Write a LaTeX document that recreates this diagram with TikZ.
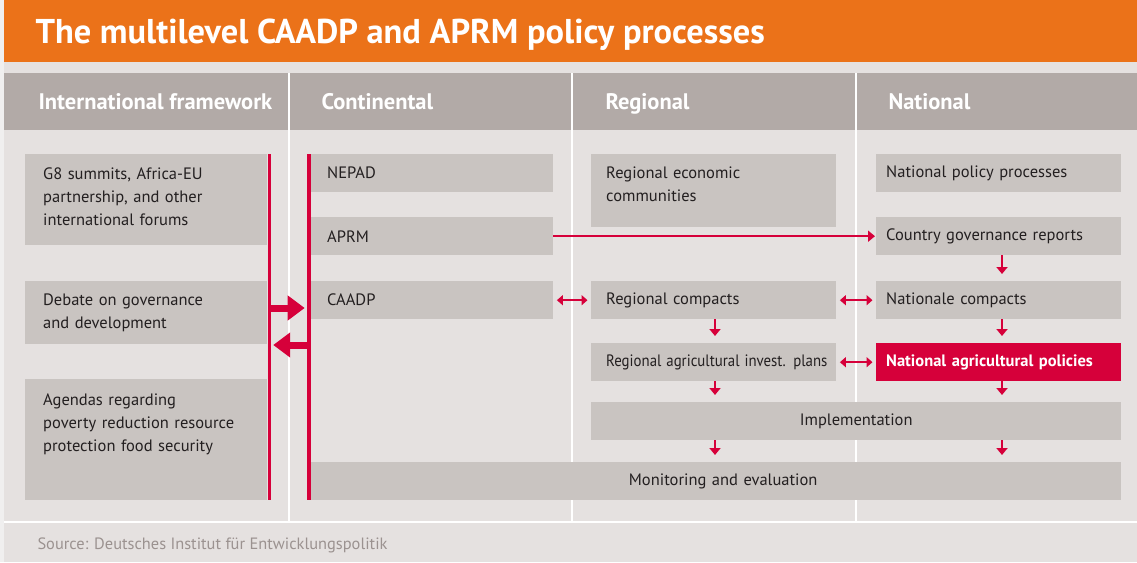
\documentclass[tikz,border=0pt]{standalone}
\usepackage{fontspec}
\setmainfont{PT Sans}
\usetikzlibrary{arrows.meta,positioning}

\definecolor{lancetorange}{HTML}{EB7219}
\definecolor{headgray}{HTML}{B2AAA7}
\definecolor{panelgray}{HTML}{E5E1E0}
\definecolor{edgegray}{HTML}{F0EFEF}
\definecolor{boxgray}{HTML}{C9C4C1}
\definecolor{flowred}{HTML}{D6003A}
\definecolor{inkgray}{HTML}{231F20}
\definecolor{srcgray}{HTML}{9B9290}

\tikzset{
  box/.style={fill=boxgray, anchor=north west, inner ysep=0pt, minimum height=38pt,
    text width=#1, align=left, text=inkgray, font=\fontsize{16.5}{23}\selectfont},
  head/.style={anchor=base west, text=white, font=\bfseries\fontsize{22.5}{26}\selectfont},
  flow/.style={flowred, line width=2.5pt, -{Triangle[length=7pt,width=11pt]}, shorten >=7pt},
  twoway/.style={flowred, line width=2.5pt,
    {Triangle[length=6pt,width=10pt]}-{Triangle[length=6pt,width=10pt]},
    shorten <=3.5pt, shorten >=3.5pt},
  bigarrow/.style={flowred, line width=7pt, -{Triangle[length=17pt,width=24pt]}, shorten >=4pt}
}

\begin{document}
\begin{tikzpicture}[x=1pt,y=-1pt]
\useasboundingbox (0,0) rectangle (1137,562);

% backdrop, title band and column heads
\fill[edgegray] (0,0) rectangle (1137,562);
\fill[panelgray] (4,0) rectangle (1137,562);
\fill[lancetorange] (4,0) rectangle (1137,62);
\fill[headgray] (4,73) rectangle (1137,130);
\foreach \x in {288.5,572,856}
  \draw[white, line width=2pt] (\x,73) -- (\x,521);
\draw[white, line width=2pt] (4,521.5) -- (1137,521.5);

\node[anchor=base west, text=white, font=\bfseries\fontsize{34.4}{40}\selectfont] (title) at (32,43)
  {The multilevel CAADP and APRM policy processes};
\node[head] (hint) at (35,109) {International framework};
\node[head] (hcon) at (318,109) {Continental};
\node[head] (hreg) at (602,109) {Regional};
\node[head] (hnat) at (885,109) {National};

% international framework
\node[box=206pt, inner xsep=18pt, minimum height=91pt] (g8) at (25,154)
  {\parbox[c][64pt][t]{206pt}{G8 summits, Africa-EU\\partnership, and other\\international forums}};
\node[box=206pt, inner xsep=18pt, minimum height=63pt] (debate) at (25,281)
  {Debate on governance\\and development};
\node[box=206pt, inner xsep=18pt, minimum height=121pt] (agenda) at (25,379)
  {\parbox[c][92pt][t]{206pt}{Agendas regarding\\poverty reduction resource\\protection food security}};

% continental
\node[box=210pt, inner xsep=16pt] (nepad) at (311,154) {NEPAD};
\node[box=210pt, inner xsep=16pt] (aprm) at (311,217) {APRM};
\node[box=210pt, inner xsep=16pt] (caadp) at (311,281) {CAADP};

% regional
\node[box=215pt, inner xsep=15pt, minimum height=73pt] (rec) at (591,154)
  {\parbox[c][48pt][t]{215pt}{Regional economic\\communities}};
\node[box=215pt, inner xsep=15pt] (rcomp) at (591,281) {Regional compacts};
\node[box=215pt, inner xsep=15pt] (ragri) at (591,343)
  {\scalebox{0.9}[1]{Regional agricultural invest. plans}};

% national
\node[box=225pt, inner xsep=10pt] (npol) at (876,154) {National policy processes};
\node[box=225pt, inner xsep=10pt] (cgr) at (876,217) {Country governance reports};
\node[box=225pt, inner xsep=10pt] (ncomp) at (876,281) {Nationale compacts};
\node[box=225pt, inner xsep=10pt, fill=flowred, text=white, font=\bfseries\fontsize{16.5}{23}\selectfont] (nagri) at (876,343)
  {National agricultural policies};

% shared rows
\node[box=530pt, inner xsep=0pt, align=center] (impl) at (591,402) {Implementation};
\node[box=810pt, inner xsep=0pt, align=center] (monit) at (311,462) {\hspace*{14pt}Monitoring and evaluation};

% red rails and the big arrows between them
\coordinate (ilt) at (269.2,154);
\coordinate (ilb) at (269.2,500);
\coordinate (clt) at (308.7,154);
\coordinate (clb) at (308.7,500);
\coordinate (tocon) at (269.2,308);
\coordinate (toint) at (308.7,345);
\draw[bigarrow] (tocon) -- (tocon -| clt);
\draw[bigarrow] (toint) -- (toint -| ilt);
\draw[flowred, line width=3pt] (ilt) -- (ilb);
\draw[flowred, line width=4pt] (clt) -- (clb);

% flows
\coordinate (regx) at (715,0);
\coordinate (natx) at (1002,0);
\draw[flow, shorten >=1pt] (aprm.east) -- (cgr.west);
\draw[twoway] (caadp.east) -- (rcomp.west);
\draw[twoway] (rcomp.east) -- (ncomp.west);
\draw[twoway] (ragri.east) -- (nagri.west);
\draw[flow] (cgr.south -| natx) -- (ncomp.north -| natx);
\draw[flow] (ncomp.south -| natx) -- (nagri.north -| natx);
\draw[flow] (rcomp.south -| regx) -- (ragri.north -| regx);
\draw[flow] (ragri.south -| regx) -- (impl.north -| regx);
\draw[flow] (nagri.south -| natx) -- (impl.north -| natx);
\draw[flow] (impl.south -| regx) -- (monit.north -| regx);
\draw[flow] (impl.south -| natx) -- (monit.north -| natx);

\node[anchor=base west, text=srcgray, font=\fontsize{16.4}{19}\selectfont] (src) at (34,549)
  {Source: Deutsches Institut für Entwicklungspolitik};
\end{tikzpicture}
\end{document}
